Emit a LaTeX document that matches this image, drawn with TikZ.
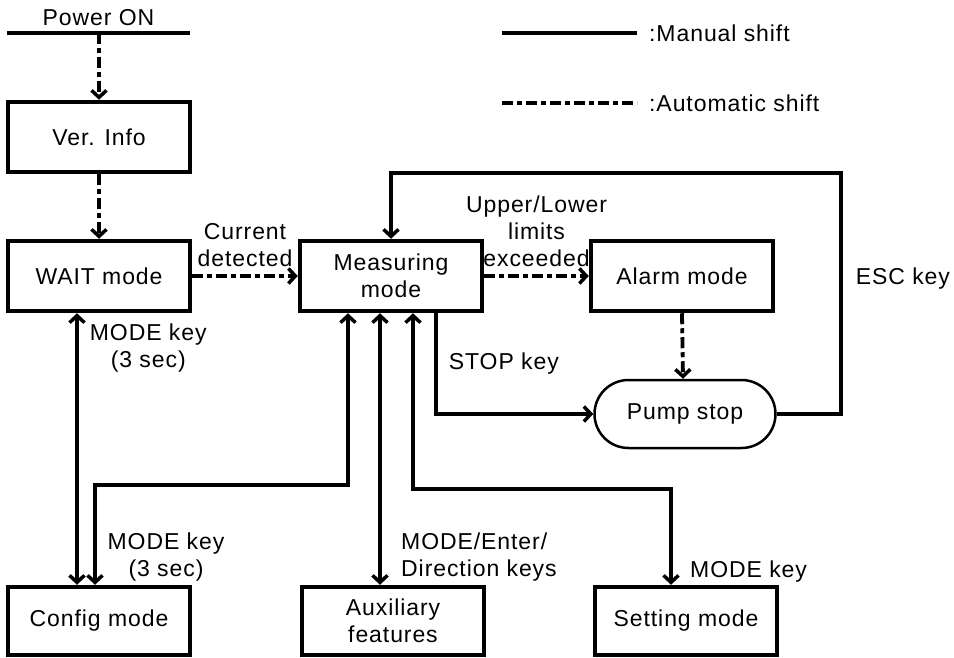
\documentclass[tikz,border=0pt]{standalone}
\usepackage{fontspec}
\setmainfont{Liberation Sans}[LetterSpace=4]
\usetikzlibrary{arrows.meta}
\begin{document}
\begin{tikzpicture}[
    x=1pt, y=-1pt,
    every node/.style={font=\fontsize{23}{27}\selectfont},
    mode/.style={draw, line width=4.5pt, minimum width=182pt, minimum height=70pt, inner sep=0pt, align=center},
    stop/.style={draw, line width=2.5pt, rounded corners=34pt, minimum width=181pt, minimum height=68pt, inner sep=0pt},
    lbl/.style={inner sep=1pt, align=center},
    manual/.style={line width=3.8pt, -{Straight Barb[length=7pt, width=15pt, line width=3.5pt]}},
    both/.style={line width=3.8pt, {Straight Barb[length=7pt, width=15pt, line width=3.5pt]}-{Straight Barb[length=7pt, width=15pt, line width=3.5pt]}},
    auto/.style={manual, dash pattern=on 11pt off 4pt on 5pt off 4pt}
]
    \useasboundingbox (0,0) rectangle (954,658);

    % Zustaende
    \node[mode] (ver) at (99,137) {Ver. Info};
    \node[mode] (wait) at (99,276) {WAIT mode};
    \node[mode] (meas) at (391,276) {Measuring\\mode};
    \node[mode] (alarm) at (682,276) {Alarm mode};
    \node[stop] (pump) at (685,414) {Pump stop};
    \node[mode, minimum height=68pt] (config) at (99,621) {Config mode};
    \node[mode, minimum height=68pt] (aux) at (393,621) {Auxiliary\\features};
    \node[mode, minimum height=68pt] (setting) at (686,621) {Setting mode};

    % Einschalten
    \coordinate (pwrL) at (7,33);
    \coordinate (pwrR) at (190,33);
    \draw[line width=4.5pt] (pwrL) -- node[lbl, above=4pt] (pwrtxt) {Power ON} (pwrR);
    \draw[auto] (ver.north |- pwrL) -- (ver.north);
    \draw[auto] (ver.south) -- (wait.north);

    % Uebergaenge
    \draw[auto] (wait.east) -- node[lbl, above=6pt] (curtxt) {Current\\detected} (meas.west);
    \draw[auto] (meas.east) -- node[lbl, above=6pt] (limtxt) {Upper/Lower\\limits\\exceeded} (alarm.west);
    \draw[auto] (alarm.south) -- ([xshift=-2]pump.north);
    \draw[manual] ([xshift=45]meas.south) |- node[lbl, pos=0.25, right=10pt] (stoptxt) {STOP key} (pump.west);
    \coordinate (escT) at (841,173);
    \draw[manual] (pump.east) -| node[lbl, pos=0.78, right=12pt] (esctxt) {ESC key} (escT) -| (meas.north);

    % Tasten
    \draw[both] ([xshift=-22]wait.south) -- node[lbl, pos=0.13, right=10pt] (waitkey) {MODE key\\(3 sec)} ([xshift=-22]config.north);
    \draw[both] ([xshift=-4]config.north) -- ++(0,-100) -| ([xshift=-43]meas.south);
    \node[lbl] (cfgkey) at (166,557) {MODE key\\(3 sec)};
    \draw[both] ([xshift=-11]meas.south) -- ([xshift=-11]meas.south |- aux.north);
    \node[lbl, align=left, anchor=west] (auxkey) at (400,557) {MODE/Enter/\\Direction keys};
    \draw[both] ([xshift=22]meas.south) -- ++(0,176) -| ([xshift=-15]setting.north);
    \node[lbl, anchor=west] (setkey) at (689,572) {MODE key};

    % Legende
    \coordinate (manA) at (502,33);
    \coordinate (manB) at (637,33);
    \coordinate (autA) at (502,103);
    \coordinate (autB) at (637,103);
    \draw[line width=3.8pt] (manA) -- (manB);
    \draw[line width=3.8pt, dash pattern=on 11pt off 4pt on 5pt off 4pt] (autA) -- (autB);
    \node[lbl, anchor=west] (mantxt) at (648,33) {:Manual shift};
    \node[lbl, anchor=west] (auttxt) at (648,103) {:Automatic shift};
\end{tikzpicture}
\end{document}
